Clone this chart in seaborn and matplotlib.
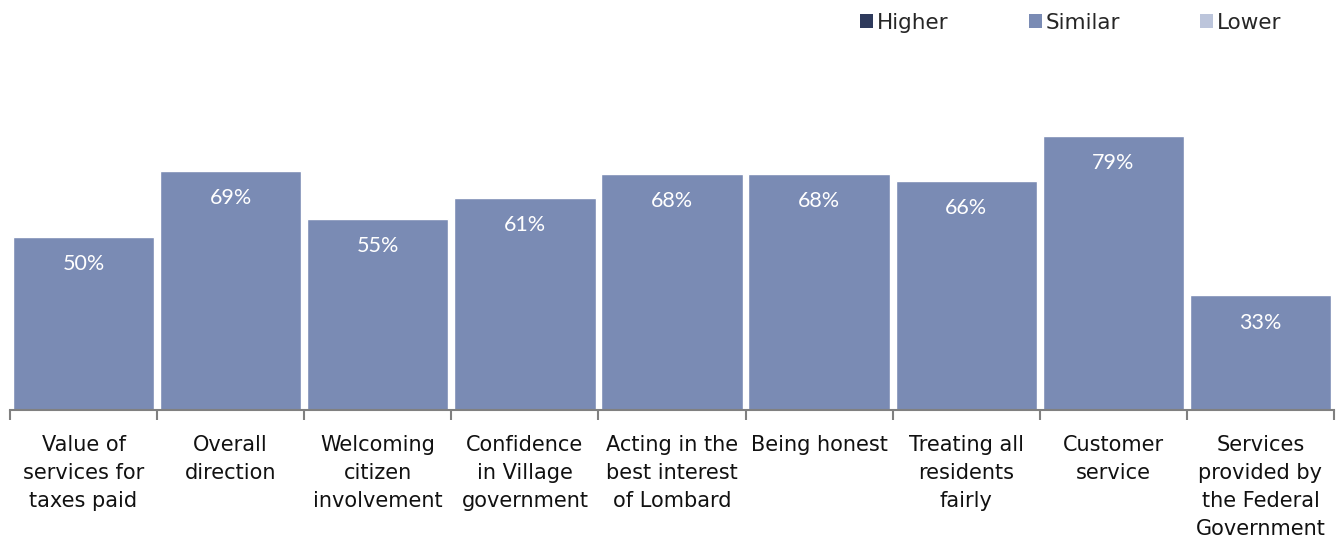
import numpy as np
import pandas as pd
import matplotlib
matplotlib.use("Agg")
import matplotlib.pyplot as plt
import seaborn as sns
from matplotlib.patches import Patch

categories = [
    "Value of\nservices for\ntaxes paid",
    "Overall\ndirection",
    "Welcoming\ncitizen\ninvolvement",
    "Confidence\nin Village\ngovernment",
    "Acting in the\nbest interest\nof Lombard",
    "Being honest",
    "Treating all\nresidents\nfairly",
    "Customer\nservice",
    "Services\nprovided by\nthe Federal\nGovernment",
]
similar = [50, 69, 55, 61, 68, 68, 66, 79, 33]
series_names = ["Higher", "Similar", "Lower"]
series_colors = ["#2E3A5C", "#7A8BB4", "#BCC5DB"]

sns.set_style("white")
plt.rcParams["font.family"] = ["DejaVu Sans"]

df = pd.DataFrame({"category": categories, "Similar": similar})

fig = plt.figure(figsize=(13.42, 5.39), dpi=100)
ax = fig.add_axes([10 / 1342, 1 - 410 / 539, 1324 / 1342, 347 / 539])

sns.barplot(data=df, x="category", y="Similar", color=series_colors[1],
            width=0.96, saturation=1, ax=ax)

# value labels inside the bars
for i, v in enumerate(similar):
    ax.text(i, v - 7.8, f"{v}%", ha="center", va="center", color="white",
            fontsize=15.5, family=["Lato", "DejaVu Sans"])

ax.set_xlim(-0.5, len(categories) - 0.5)
ax.set_ylim(0, 100)
ax.set_xlabel("")
ax.set_ylabel("")
ax.set_yticks([])
ax.set_xticks(range(len(categories)))
ax.set_xticklabels(categories, fontsize=15, linespacing=1.49, color="#111111")
ax.tick_params(axis="x", which="major", bottom=False, length=0, pad=18)
ax.set_xticks(np.arange(-0.5, len(categories), 1), minor=True)
ax.tick_params(axis="x", which="minor", bottom=True, length=7, width=1.5,
               color="#808080", direction="out")
for s in ["top", "right", "left"]:
    ax.spines[s].set_visible(False)
ax.spines["bottom"].set_color("#808080")
ax.spines["bottom"].set_linewidth(1.5)

handles = [Patch(facecolor=c, edgecolor="none") for c in series_colors]
fig.legend(handles, series_names, loc="upper right", bbox_to_anchor=(0.9695, 1.012),
           ncol=3, frameon=False, fontsize=15.5, handlelength=0.6, handleheight=0.6,
           handletextpad=0.2, columnspacing=3.7)

fig.savefig("out.png", dpi=100)
